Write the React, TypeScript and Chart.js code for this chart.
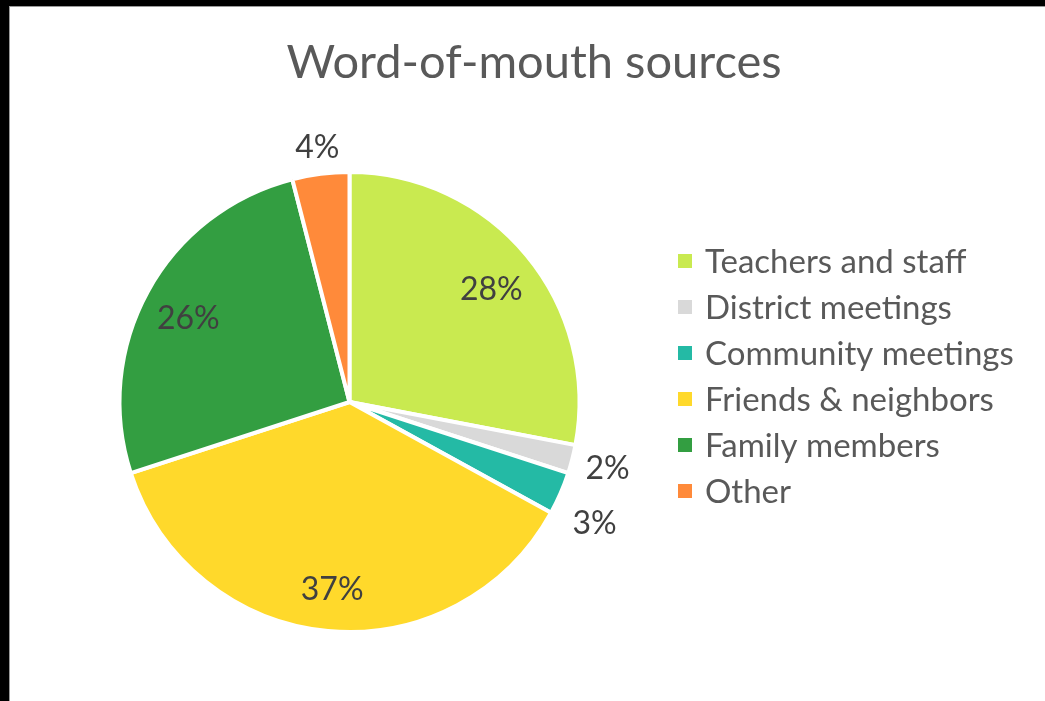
import React, { useEffect, useRef } from "react";
import { Chart, registerables } from "chart.js";

Chart.register(...registerables);

const titleText = "Word-of-mouth sources";
const categories = [
  "Teachers and staff",
  "District meetings",
  "Community meetings",
  "Friends & neighbors",
  "Family members",
  "Other",
];
const shares = [28, 2, 3, 37, 26, 4];
const sliceColors = ["#C9EA50", "#D9D9D9", "#24BAA5", "#FFD92B", "#339E41", "#FF8A3A"];
const outsideLabel = [false, true, true, false, false, true];

const FONT = "Lato, 'Open Sans', sans-serif";

const overlayPlugin = {
  id: "overlay",
  afterDraw(chart: any) {
    const ctx = chart.ctx as CanvasRenderingContext2D;
    const meta = chart.getDatasetMeta(0);
    ctx.save();
    // Title
    ctx.fillStyle = "#595959";
    ctx.font = `47px ${FONT}`;
    ctx.textAlign = "center";
    ctx.textBaseline = "middle";
    ctx.fillText(titleText, 534, 63);

    // Legend
    ctx.font = `33px ${FONT}`;
    ctx.textAlign = "left";
    categories.forEach((c, i) => {
      const y = 261 + 46 * i;
      ctx.fillStyle = sliceColors[i];
      ctx.fillRect(678, y - 7, 14, 14);
      ctx.fillStyle = "#595959";
      ctx.fillText(c, 705, y + 1);
    });

    // Data labels
    ctx.font = `32px ${FONT}`;
    ctx.fillStyle = "#404040";
    ctx.textAlign = "center";
    ctx.textBaseline = "middle";
    let prevRightY = -Infinity;
    meta.data.forEach((arc: any, i: number) => {
      const p = arc.getProps(["x", "y", "startAngle", "endAngle", "outerRadius"], true);
      const mid = (p.startAngle + p.endAngle) / 2;
      const dx = Math.cos(mid);
      const dy = Math.sin(mid);
      const text = `${shares[i]}%`;
      let x: number;
      let y: number;
      if (outsideLabel[i]) {
        const w = ctx.measureText(text).width;
        const h = 24;
        const r = p.outerRadius + 12 + Math.abs(dx) * w / 2 + Math.abs(dy) * h / 2;
        x = p.x + dx * r;
        y = p.y + dy * r;
        if (dx > 0) {
          if (y < prevRightY + 55) y = prevRightY + 55;
          prevRightY = y;
        }
      } else {
        const r = p.outerRadius * 0.8;
        x = p.x + dx * r;
        y = p.y + dy * r + 5;
      }
      ctx.fillText(text, x, y);
    });
    ctx.restore();
  },
};

export default function App() {
  const ref = useRef<HTMLCanvasElement | null>(null);
  useEffect(() => {
    if (!ref.current) return;
    const chart = new Chart(ref.current, {
      type: "pie",
      data: {
        labels: categories,
        datasets: [
          {
            data: shares,
            backgroundColor: sliceColors,
            borderColor: "#FFFFFF",
            borderWidth: 4,
            radius: 230,
          } as any,
        ],
      },
      options: {
        responsive: false,
        animation: false,
        layout: { padding: { left: 117, top: 170, right: 463, bottom: 67 } },
        plugins: {
          legend: { display: false },
          title: { display: false },
          tooltip: { enabled: false },
        },
      },
      plugins: [overlayPlugin],
    });
    return () => chart.destroy();
  }, []);
  return (
    <div style={{ position: "fixed", left: 0, top: 0, width: 1045, height: 701, background: "#000", overflow: "hidden" }}>
      <div
        style={{
          position: "absolute",
          left: 9,
          top: 6,
          width: 1036,
          height: 695,
          background: "#fff",
          borderLeft: "1px solid #9a9a9a",
          borderTop: "1px solid #9a9a9a",
        }}
      />
      <canvas ref={ref} width={1045} height={701} style={{ position: "absolute", left: 0, top: 0, width: 1045, height: 701 }} />
    </div>
  );
}
